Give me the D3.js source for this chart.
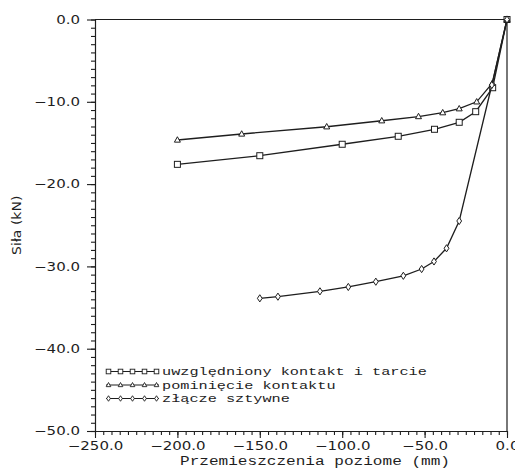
<!DOCTYPE html>
<html>
<head>
<meta charset="utf-8">
<script src="https://cdn.jsdelivr.net/npm/d3@7"></script>
<style>
  body { margin: 0; background: #fff; }
</style>
</head>
<body>
<svg id="chart" width="515" height="470"></svg>
<script>
// Axis ticks
const xTicks = [-250, -200, -150, -100, -50, 0];
const yTicks = [0, -10, -20, -30, -40, -50];

// Series labels
const seriesNames = ["uwzględniony kontakt i tarcie", "pominięcie kontaktu", "złącze sztywne"];

// Contact with friction (squares)
const contactX = [-200, -150, -100, -66, -44, -29, -19, -8.7, 0];
const contactY = [-17.6, -16.55, -15.16, -14.19, -13.34, -12.49, -11.2, -8.29, 0];

// Contact ignored (triangles)
const noContactX = [-200, -161, -109.4, -76, -53.7, -39, -29, -18.4, -8.9, 0];
const noContactY = [-14.64, -13.91, -13.03, -12.3, -11.79, -11.32, -10.84, -10.0, -7.75, 0];

// Rigid joint (diamonds)
const rigidX = [-150, -139, -113.5, -96.3, -79.6, -62.9, -51.8, -44.3, -36.7, -29, -9.2, 0];
const rigidY = [-33.88, -33.68, -33.03, -32.5, -31.86, -31.14, -30.32, -29.4, -27.8, -24.48, -7.96, 0];

const ink = "#1e1e1e";
const svg = d3.select("#chart");

const x = d3.scaleLinear().domain([-250, 0]).range([95, 507]);
const y = d3.scaleLinear().domain([0, -50]).range([19.5, 431]);

const fmt = d3.format(".1f");

// Wide, low lettering: stretch the glyphs horizontally by factor k
function widen(sel, k) {
  sel.each(function () {
    const len = this.getComputedTextLength();
    d3.select(this).attr("textLength", len * k).attr("lengthAdjust", "spacingAndGlyphs");
  });
}

// Minor ticks
const xMinor = d3.range(-250, 0.1, 5);
const yMinor = d3.range(0, -50.1, -1);

svg.append("g")
  .attr("transform", `translate(0,${y(-50)})`)
  .call(d3.axisBottom(x).tickValues(xMinor).tickSize(4).tickSizeOuter(0).tickFormat(""))
  .call(g => g.selectAll("line,path").attr("stroke", ink).attr("stroke-width", 1.1));

svg.append("g")
  .attr("transform", `translate(${x(-250)},0)`)
  .call(d3.axisLeft(y).tickValues(yMinor).tickSize(4).tickSizeOuter(0).tickFormat(""))
  .call(g => g.selectAll("line,path").attr("stroke", ink).attr("stroke-width", 1.1));

// Major ticks with labels
const xAxis = svg.append("g")
  .attr("transform", `translate(0,${y(-50)})`)
  .call(d3.axisBottom(x).tickValues(xTicks).tickSize(7).tickSizeOuter(0).tickPadding(3).tickFormat(fmt));
xAxis.selectAll("line,path").attr("stroke", ink).attr("stroke-width", 1.1);
xAxis.selectAll("text")
  .attr("font-family", "DejaVu Sans").attr("font-size", 12).attr("fill", ink)
  .call(widen, 1.25);

const yAxis = svg.append("g")
  .attr("transform", `translate(${x(-250)},0)`)
  .call(d3.axisLeft(y).tickValues(yTicks).tickSize(8).tickSizeOuter(0).tickPadding(7).tickFormat(fmt));
yAxis.selectAll("line,path").attr("stroke", ink).attr("stroke-width", 1.1);
yAxis.selectAll("text")
  .attr("font-family", "DejaVu Sans").attr("font-size", 12).attr("fill", ink)
  .call(widen, 1.25);

// Frame: top and right edges
svg.append("path")
  .attr("d", `M${x(-250)},${y(0)}H${x(0)}V${y(-50)}`)
  .attr("fill", "none").attr("stroke", ink).attr("stroke-width", 1.2);

// Axis titles
const yTitle = svg.append("text")
  .attr("transform", `translate(21,${(y(-20) + y(-30)) / 2}) rotate(-90)`)
  .attr("text-anchor", "middle")
  .attr("font-family", "DejaVu Sans").attr("font-size", 12.5).attr("fill", ink)
  .text("Siła (kN)");
widen(yTitle, 1.12);

svg.append("text")
  .attr("x", 315).attr("y", 465)
  .attr("text-anchor", "middle")
  .attr("font-family", "Liberation Mono, monospace").attr("font-size", 12.5).attr("fill", ink)
  .attr("textLength", 270).attr("lengthAdjust", "spacingAndGlyphs")
  .text("Przemieszczenia poziome (mm)");

// Marker shapes
function marker(g, kind, cx, cy, s) {
  if (kind === "square") {
    g.append("rect").attr("x", cx - s / 2).attr("y", cy - s / 2).attr("width", s).attr("height", s);
  } else if (kind === "triangle") {
    const h = s * 0.9;
    g.append("path").attr("d", `M${cx},${cy - h * 0.6}L${cx + s / 2},${cy + h * 0.4}L${cx - s / 2},${cy + h * 0.4}Z`);
  } else {
    const w = s * 0.8, h = s * 1.2;
    g.append("path").attr("d", `M${cx},${cy - h / 2}L${cx + w / 2},${cy}L${cx},${cy + h / 2}L${cx - w / 2},${cy}Z`);
  }
}

const series = [
  { xs: contactX, ys: contactY, kind: "square" },
  { xs: noContactX, ys: noContactY, kind: "triangle" },
  { xs: rigidX, ys: rigidY, kind: "diamond" }
];

const line = d3.line().x(d => x(d[0])).y(d => y(d[1]));

series.forEach(s => {
  const pts = s.xs.map((v, i) => [v, s.ys[i]]);
  svg.append("path")
    .attr("d", line(pts))
    .attr("fill", "none").attr("stroke", ink).attr("stroke-width", 1.3);
  const g = svg.append("g").attr("fill", "#fff").attr("stroke", ink).attr("stroke-width", 1);
  pts.forEach(p => marker(g, s.kind, x(p[0]), y(p[1]), 6));
});

// Legend
const legendRows = [375, 388.5, 402];
series.forEach((s, i) => {
  const base = legendRows[i];
  const cy = base - 3.5;
  svg.append("line")
    .attr("x1", 106).attr("x2", 159).attr("y1", cy).attr("y2", cy)
    .attr("stroke", ink).attr("stroke-width", 1);
  const g = svg.append("g").attr("fill", "#fff").attr("stroke", ink).attr("stroke-width", 0.9);
  d3.range(5).forEach(k => marker(g, s.kind, 108.5 + k * 12, cy, 4.6));
  svg.append("text")
    .attr("x", 162).attr("y", base)
    .attr("font-family", "Liberation Mono, monospace").attr("font-size", 11.8).attr("fill", ink)
    .text(seriesNames[i])
    .call(widen, 1.29);
});
</script>
</body>
</html>
